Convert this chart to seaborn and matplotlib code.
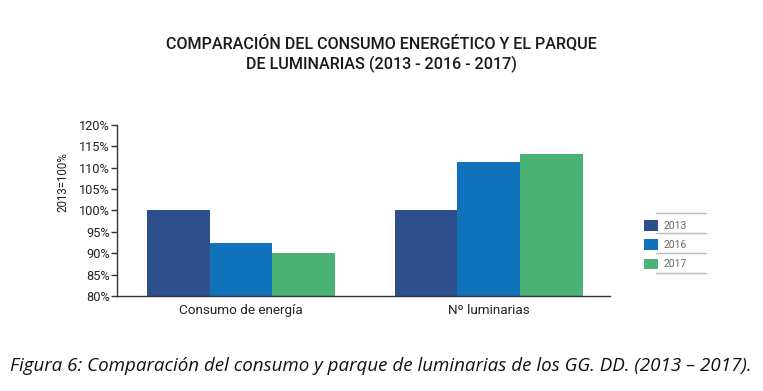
import matplotlib
matplotlib.use("Agg")
import matplotlib.pyplot as plt
import seaborn as sns
import pandas as pd
from matplotlib.patches import Patch
from matplotlib.lines import Line2D

# data (2013 = 100%)
categorias = ["Consumo de energía", "Nº luminarias"]
anios = ["2013", "2016", "2017"]
consumo = [100.1, 92.4, 90.0]
luminarias = [100.1, 111.4, 113.2]
colores = ["#2d4f8b", "#1172bc", "#4ab275"]

df = pd.DataFrame({
    "categoria": categorias * 3,
    "anio": [a for a in anios for _ in categorias],
    "valor": [v for pair in zip(consumo, luminarias) for v in pair],
})

sns.set_style("white")
plt.rcParams["font.family"] = ["Roboto", "DejaVu Sans"]

fig = plt.figure(figsize=(7.63, 3.91), dpi=100)
ax = fig.add_axes([117.3 / 763, 1 - 296 / 391, (610 - 117.3) / 763, (296 - 125) / 391])

sns.barplot(data=df, x="categoria", y="valor", hue="anio", order=categorias,
            hue_order=anios, palette=colores, width=0.76, saturation=1,
            linewidth=0, edgecolor="none", ax=ax, legend=False)

ax.set_ylim(80, 120)
ax.set_xlim(-0.5, 1.49)
ax.set_yticks(range(80, 121, 5))
ax.set_yticklabels([f"{t}%" for t in range(80, 121, 5)], fontsize=9.2, color="#222222")
ax.tick_params(axis="y", length=4, width=1, color="#333333", pad=1.5, left=True)
ax.tick_params(axis="x", length=0, pad=6, labelsize=9.7, labelcolor="#222222")
ax.set_xlabel("")
ax.set_ylabel("")
for s in ["top", "right"]:
    ax.spines[s].set_visible(False)
for s in ["left", "bottom"]:
    ax.spines[s].set_color("#333333")
    ax.spines[s].set_linewidth(1)

ax.text(63 / 763, 1 - 182 / 391, "2013=100%", transform=fig.transFigure,
        rotation=90, ha="center", va="center", fontsize=8.3, color="#222222")

fig.text(381 / 763, 1 - 43 / 391, "COMPARACIÓN DEL CONSUMO ENERGÉTICO Y EL PARQUE",
         ha="center", va="center", fontsize=11.6, fontweight="medium", color="#1a1a1a")
fig.text(381 / 763, 1 - 64 / 391, "DE LUMINARIAS (2013 - 2016 - 2017)",
         ha="center", va="center", fontsize=11.6, fontweight="medium", color="#1a1a1a")

# legend with separator lines
handles = [Patch(facecolor=c, edgecolor="none") for c in colores]
leg = fig.legend(handles, anios, loc="upper left",
                 bbox_to_anchor=(640 / 763, 1 - 216 / 391),
                 frameon=False, fontsize=7.5, labelcolor="#666666",
                 handlelength=1.3, handleheight=1.2, handletextpad=0.6,
                 labelspacing=0.8, borderaxespad=0)
for y in [213, 233, 253, 273]:
    fig.add_artist(Line2D([656 / 763, 706 / 763], [1 - y / 391, 1 - y / 391],
                          transform=fig.transFigure, color="#bbbbbb", lw=1))

fig.text(10 / 763, 1 - 366 / 391,
         "Figura 6: Comparación del consumo y parque de luminarias de los GG. DD. (2013 – 2017).",
         ha="left", va="center", fontsize=13.5, style="italic",
         family=["Open Sans", "DejaVu Sans"], color="#111111")

fig.savefig("out.png", dpi=100)
